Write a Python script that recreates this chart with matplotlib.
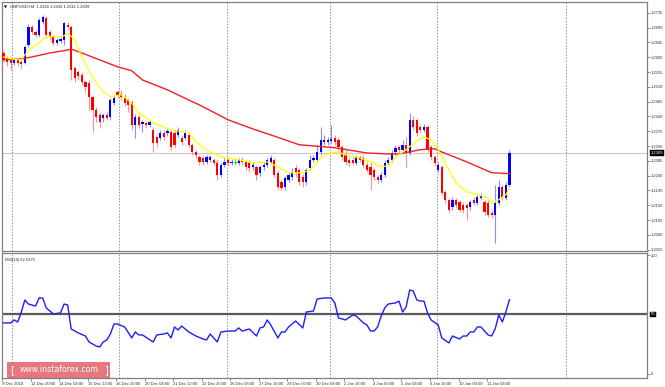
import matplotlib.pyplot as plt
from matplotlib.patches import Rectangle
from matplotlib.transforms import blended_transform_factory
import numpy as np

# GBPUSD H4 candles
opens = [1.2613, 1.2598, 1.2592, 1.2583, 1.2592, 1.2586, 1.2583, 1.2638, 1.2692, 1.2677,
         1.2668, 1.2708, 1.2720, 1.2677, 1.2662, 1.2644, 1.2650, 1.2653, 1.2698, 1.2692,
         1.2568, 1.2556, 1.2546, 1.2525, 1.2522, 1.2480, 1.2440, 1.2425, 1.2416, 1.2425,
         1.2419, 1.2461, 1.2495, 1.2489, 1.2480, 1.2470, 1.2464, 1.2395, 1.2419, 1.2398,
         1.2401, 1.2395, 1.2379, 1.2358, 1.2355, 1.2370, 1.2370, 1.2373, 1.2370, 1.2364,
         1.2355, 1.2355, 1.2364, 1.2334, 1.2312, 1.2297, 1.2294, 1.2282, 1.2288, 1.2288,
         1.2279, 1.2243, 1.2273, 1.2288, 1.2279, 1.2282, 1.2279, 1.2288, 1.2282, 1.2279,
         1.2267, 1.2267, 1.2249, 1.2267, 1.2273, 1.2282, 1.2288, 1.2249, 1.2221, 1.2206,
         1.2227, 1.2236, 1.2264, 1.2258, 1.2236, 1.2221, 1.2264, 1.2288, 1.2288, 1.2312,
         1.2343, 1.2343, 1.2346, 1.2355, 1.2349, 1.2328, 1.2303, 1.2288, 1.2288, 1.2279,
         1.2297, 1.2294, 1.2273, 1.2267, 1.2258, 1.2236, 1.2227, 1.2243, 1.2279, 1.2288,
         1.2312, 1.2328, 1.2319, 1.2334, 1.2309, 1.2410, 1.2410, 1.2388, 1.2379, 1.2388,
         1.2328, 1.2297, 1.2258, 1.2267, 1.2191, 1.2167, 1.2145, 1.2167, 1.2160, 1.2151,
         1.2151, 1.2145, 1.2167, 1.2157, 1.2173, 1.2160, 1.2157, 1.2127, 1.2121, 1.2157,
         1.2206, 1.2173, 1.2212]
closes = [1.2592, 1.2586, 1.2583, 1.2592, 1.2583, 1.2580, 1.2632, 1.2692, 1.2677, 1.2668,
          1.2714, 1.2723, 1.2668, 1.2662, 1.2644, 1.2653, 1.2656, 1.2705, 1.2692, 1.2562,
          1.2537, 1.2543, 1.2525, 1.2510, 1.2480, 1.2440, 1.2419, 1.2404, 1.2425, 1.2416,
          1.2470, 1.2477, 1.2486, 1.2480, 1.2461, 1.2455, 1.2395, 1.2419, 1.2395, 1.2404,
          1.2395, 1.2404, 1.2340, 1.2340, 1.2370, 1.2358, 1.2376, 1.2328, 1.2334, 1.2379,
          1.2343, 1.2370, 1.2334, 1.2312, 1.2303, 1.2282, 1.2282, 1.2297, 1.2297, 1.2279,
          1.2243, 1.2273, 1.2282, 1.2279, 1.2282, 1.2282, 1.2288, 1.2282, 1.2267, 1.2264,
          1.2273, 1.2243, 1.2267, 1.2273, 1.2288, 1.2294, 1.2243, 1.2206, 1.2203, 1.2233,
          1.2243, 1.2252, 1.2249, 1.2221, 1.2221, 1.2258, 1.2288, 1.2294, 1.2312, 1.2349,
          1.2349, 1.2349, 1.2352, 1.2343, 1.2328, 1.2297, 1.2282, 1.2279, 1.2279, 1.2297,
          1.2288, 1.2273, 1.2258, 1.2243, 1.2236, 1.2227, 1.2243, 1.2279, 1.2288, 1.2309,
          1.2325, 1.2319, 1.2334, 1.2312, 1.2410, 1.2388, 1.2370, 1.2379, 1.2388, 1.2319,
          1.2297, 1.2279, 1.2273, 1.2188, 1.2167, 1.2136, 1.2167, 1.2151, 1.2136, 1.2136,
          1.2142, 1.2160, 1.2157, 1.2176, 1.2179, 1.2130, 1.2121, 1.2121, 1.2157, 1.2206,
          1.2173, 1.2212, 1.2309]
highs = [1.2622, 1.2604, 1.2598, 1.2598, 1.2598, 1.2592, 1.2638, 1.2701, 1.2698, 1.2683,
         1.2720, 1.2729, 1.2726, 1.2683, 1.2668, 1.2659, 1.2662, 1.2708, 1.2708, 1.2698,
         1.2574, 1.2562, 1.2556, 1.2531, 1.2531, 1.2486, 1.2449, 1.2434, 1.2431, 1.2434,
         1.2477, 1.2486, 1.2501, 1.2501, 1.2489, 1.2477, 1.2470, 1.2428, 1.2425, 1.2410,
         1.2407, 1.2410, 1.2388, 1.2364, 1.2379, 1.2379, 1.2385, 1.2379, 1.2379, 1.2388,
         1.2364, 1.2379, 1.2373, 1.2340, 1.2319, 1.2303, 1.2300, 1.2303, 1.2303, 1.2294,
         1.2288, 1.2279, 1.2294, 1.2297, 1.2291, 1.2294, 1.2294, 1.2297, 1.2288, 1.2288,
         1.2282, 1.2273, 1.2273, 1.2282, 1.2294, 1.2303, 1.2294, 1.2258, 1.2227, 1.2239,
         1.2252, 1.2264, 1.2273, 1.2264, 1.2246, 1.2264, 1.2303, 1.2303, 1.2334, 1.2388,
         1.2364, 1.2358, 1.2395, 1.2364, 1.2358, 1.2334, 1.2319, 1.2297, 1.2297, 1.2303,
         1.2303, 1.2303, 1.2282, 1.2282, 1.2264, 1.2243, 1.2252, 1.2288, 1.2297, 1.2319,
         1.2334, 1.2334, 1.2349, 1.2358, 1.2431, 1.2422, 1.2416, 1.2395, 1.2398, 1.2395,
         1.2334, 1.2303, 1.2282, 1.2273, 1.2197, 1.2173, 1.2176, 1.2173, 1.2167, 1.2160,
         1.2157, 1.2167, 1.2176, 1.2182, 1.2188, 1.2167, 1.2167, 1.2136, 1.2212, 1.2227,
         1.2212, 1.2221, 1.2319]
lows = [1.2586, 1.2574, 1.2562, 1.2577, 1.2574, 1.2568, 1.2580, 1.2632, 1.2671, 1.2662,
        1.2662, 1.2701, 1.2662, 1.2653, 1.2638, 1.2638, 1.2644, 1.2638, 1.2683, 1.2531,
        1.2525, 1.2531, 1.2516, 1.2495, 1.2440, 1.2373, 1.2404, 1.2385, 1.2404, 1.2410,
        1.2410, 1.2455, 1.2477, 1.2470, 1.2452, 1.2434, 1.2379, 1.2355, 1.2385, 1.2373,
        1.2385, 1.2388, 1.2312, 1.2328, 1.2349, 1.2349, 1.2361, 1.2319, 1.2325, 1.2358,
        1.2334, 1.2349, 1.2328, 1.2303, 1.2294, 1.2273, 1.2273, 1.2276, 1.2282, 1.2273,
        1.2227, 1.2236, 1.2267, 1.2273, 1.2273, 1.2273, 1.2273, 1.2273, 1.2258, 1.2252,
        1.2258, 1.2227, 1.2239, 1.2258, 1.2267, 1.2276, 1.2236, 1.2197, 1.2197, 1.2197,
        1.2221, 1.2227, 1.2236, 1.2212, 1.2206, 1.2212, 1.2258, 1.2282, 1.2282, 1.2303,
        1.2334, 1.2334, 1.2340, 1.2334, 1.2319, 1.2288, 1.2273, 1.2270, 1.2273, 1.2273,
        1.2282, 1.2264, 1.2252, 1.2197, 1.2227, 1.2218, 1.2221, 1.2236, 1.2273, 1.2282,
        1.2303, 1.2309, 1.2312, 1.2267, 1.2303, 1.2379, 1.2361, 1.2370, 1.2373, 1.2312,
        1.2288, 1.2270, 1.2252, 1.2182, 1.2157, 1.2130, 1.2136, 1.2142, 1.2130, 1.2127,
        1.2106, 1.2136, 1.2151, 1.2151, 1.2167, 1.2121, 1.2115, 1.2112, 1.2036, 1.2151,
        1.2167, 1.2167, 1.2206]

# slow (red) and fast (yellow) moving averages, read at the bars where they bend
ma_slow_bar = [0, 5, 8, 13, 18, 19, 22, 27, 32, 36, 39, 46, 52, 55, 63, 70, 75, 83, 93, 102,
               108, 111, 117, 121, 123, 130, 137, 142]
ma_slow = [1.2592, 1.2595, 1.2601, 1.2613, 1.2622, 1.2625, 1.2613, 1.2592, 1.2571, 1.2559,
           1.2531, 1.2501, 1.2470, 1.2455, 1.2410, 1.2382, 1.2364, 1.2334, 1.2325, 1.2309,
           1.2306, 1.2306, 1.2319, 1.2322, 1.2312, 1.2282, 1.2249, 1.2246]
ma_fast_bar = [0, 2, 5, 7, 10, 12, 15, 17, 18, 20, 22, 25, 28, 30, 33, 36, 38, 42, 47, 52,
               54, 57, 61, 66, 70, 74, 77, 80, 84, 86, 89, 92, 94, 96, 100, 103, 106, 108, 110, 113,
               116, 118, 120, 122, 125, 127, 130, 133, 136, 137, 139, 141, 142]
ma_fast = [1.2601, 1.2595, 1.2592, 1.2622, 1.2644, 1.2665, 1.2662, 1.2665, 1.2674, 1.2653,
           1.2601, 1.2540, 1.2495, 1.2480, 1.2486, 1.2461, 1.2431, 1.2401, 1.2379, 1.2370,
           1.2343, 1.2319, 1.2297, 1.2288, 1.2279, 1.2282, 1.2267, 1.2249, 1.2249, 1.2258,
           1.2294, 1.2309, 1.2312, 1.2303, 1.2294, 1.2282, 1.2267, 1.2270, 1.2297, 1.2319,
           1.2346, 1.2358, 1.2349, 1.2319, 1.2258, 1.2218, 1.2191, 1.2182, 1.2173, 1.2157,
           1.2167, 1.2182, 1.2203]

# RSI(14)
rsi_bar = [0, 2, 3, 4, 5, 6, 7, 9, 10, 11, 12, 14, 16, 17, 18, 19, 21, 23, 24, 26,
           27, 28, 29, 30, 31, 32, 34, 36, 37, 38, 39, 42, 43, 45, 46, 47, 48, 49, 50, 52,
           54, 56, 57, 58, 60, 61, 63, 65, 66, 67, 69, 71, 72, 73, 74, 75, 77, 78, 79, 80,
           82, 84, 85, 87, 88, 90, 92, 93, 94, 96, 98, 99, 101, 102, 103, 104, 105, 106, 107, 108,
           110, 111, 112, 113, 114, 115, 116, 117, 118, 119, 120, 122, 123, 125, 126, 128, 129, 130, 131, 132,
           133, 134, 136, 137, 138, 139, 140, 141, 142]
rsi = [42.9, 42.9, 45.4, 43.7, 52.1, 62.2, 58.8, 57.1, 63.9, 63.9,
       55.5, 50.4, 51.3, 58.8, 58.0, 37.8, 34.5, 31.9, 26.9, 23.5,
       22.7, 26.9, 28.6, 33.6, 42.0, 42.0, 39.5, 30.3, 35.3, 32.8,
       32.8, 26.9, 32.8, 33.6, 34.5, 30.3, 39.5, 37.0, 40.3, 35.3,
       31.9, 29.4, 28.6, 33.6, 26.9, 35.3, 36.1, 36.1, 38.7, 36.1,
       37.8, 31.9, 38.7, 39.5, 45.4, 41.2, 30.3, 35.3, 35.3, 39.5,
       44.5, 38.7, 52.1, 52.9, 63.0, 63.9, 63.9, 59.7, 47.1, 45.4,
       49.6, 48.7, 42.9, 41.2, 36.1, 36.1, 39.5, 48.7, 55.5, 58.8,
       59.7, 61.3, 52.1, 56.3, 70.6, 69.7, 62.2, 61.3, 61.3, 51.3,
       45.4, 41.2, 30.3, 26.1, 31.9, 29.4, 31.9, 31.9, 35.3, 35.3,
       39.5, 39.5, 32.8, 31.9, 38.0, 49.6, 43.7, 52.1, 62.5]

price_ticks = [1.2735, 1.2690, 1.2645, 1.2600, 1.2555, 1.2510, 1.2465, 1.2420, 1.2375,
               1.2330, 1.2285, 1.2240, 1.2195, 1.2150, 1.2105, 1.2060, 1.2015]
time_labels = ["9 Dec 2018", "12 Dec 20:00", "14 Dec 04:00", "15 Dec 12:00", "16 Dec 20:00",
               "20 Dec 04:00", "21 Dec 12:00", "22 Dec 20:00", "26 Dec 08:00", "27 Dec 16:00",
               "29 Dec 00:00", "30 Dec 08:00", "2 Jan 16:00", "4 Jan 00:00", "5 Jan 08:00",
               "6 Jan 16:00", "10 Jan 00:00", "11 Jan 08:00"]
time_label_bar = [-0.4, 7.7, 15.7, 23.7, 31.7, 39.7, 47.7, 55.7, 63.7, 71.7, 79.7, 87.7,
                  95.7, 103.7, 111.7, 119.7, 127.7, 135.7]
grid_bar = [2.4, 32.4, 62.6, 91.6, 121.7, 157.9]
last_price = 1.2309
rsi_last = 62.5375

W, H = 665, 387
fig = plt.figure(figsize=(W / 100, H / 100), dpi=100)
fig.patch.set_facecolor('white')


def box(x0, y0, x1, y1):
    return [x0 / W, 1 - y1 / H, (x1 - x0) / W, (y1 - y0) / H]


ax = fig.add_axes(box(2, 2, 647, 251))
ax_r = fig.add_axes(box(2, 253, 647, 378), sharex=ax)

FONT = 'Liberation Sans'
FS = 3.0
spine_c = '#808080'

o = np.array(opens)
c = np.array(closes)
h = np.array(highs)
l = np.array(lows)
x = np.arange(len(o))

up = c > o
down = c < o
flat = c == o
body_col = np.where(up, '#0000ff', np.where(down, '#ff0000', '#00c000'))
wick_col = np.where(up, '#8c8cff', np.where(down, '#ff9090', '#80e080'))

ax.vlines(x, l, h, colors=wick_col, lw=0.8, zorder=3)
ax.bar(x, c - o, bottom=o, width=0.62, color=body_col, lw=0, zorder=4)
ax.hlines(c[flat], x[flat] - 0.4, x[flat] + 0.4, colors='#00c000', lw=0.9, zorder=4)

ax.plot(ma_slow_bar, ma_slow, color='#f22020', lw=1.0, zorder=5)
ax.plot(ma_fast_bar, ma_fast, color='#ffff00', lw=0.9, zorder=5)

ax.axhline(last_price, color='#c8c8c8', lw=0.8, zorder=1)

for g in grid_bar:
    for a in (ax, ax_r):
        a.axvline(g, color='#6a6a6a', lw=0.5, ls=(0, (2.2, 2.2)), zorder=1)

ax.set_xlim(-0.42, 180.6)
ax.set_ylim(1.2011, 1.2768)

for a in (ax, ax_r):
    for s in a.spines.values():
        s.set_color(spine_c)
        s.set_linewidth(0.9)
    a.yaxis.tick_right()
    a.tick_params(axis='y', length=2, width=0.5, color='#606060', pad=1,
                  labelsize=FS, labelcolor='#303030')

ax.set_yticks(price_ticks)
ax.set_yticklabels([f'{p:.4f}' for p in price_ticks], fontfamily=FONT)
ax.tick_params(axis='x', bottom=False, labelbottom=False)

tr = blended_transform_factory(ax.transAxes, ax.transData)
ax.text(1.006, last_price, f'{last_price:.4f}', transform=tr, ha='left', va='center',
        fontsize=FS, fontfamily=FONT, color='white',
        bbox=dict(boxstyle='square,pad=0.15', fc='black', ec='black', lw=0.3))

ax.text(0.003, 0.985, '\u25bc', transform=ax.transAxes, ha='left', va='top',
        fontsize=2.8, color='black')
ax.text(0.012, 0.988, 'GBPUSD,H4  1.2316 1.2316 1.2311 1.2309', transform=ax.transAxes,
        ha='left', va='top', fontsize=FS, fontfamily=FONT, color='#202020')

# RSI panel
ax_r.plot(rsi_bar, rsi, color='#1e1eff', lw=1.0, zorder=4)
ax_r.axhline(50, color='#5a5a5a', lw=1.6, zorder=2)
ax_r.set_ylim(-3.4, 101.7)
ax_r.set_yticks([0, 100])
ax_r.set_yticklabels(['0', '100'], fontfamily=FONT)
tr_r = blended_transform_factory(ax_r.transAxes, ax_r.transData)
ax_r.text(1.006, 50, '50', transform=tr_r, ha='left', va='center',
          fontsize=FS, fontfamily=FONT, color='white',
          bbox=dict(boxstyle='square,pad=0.15', fc='black', ec='black', lw=0.3))
ax_r.text(0.004, 0.96, f'RSI(14) {rsi_last}', transform=ax_r.transAxes, ha='left',
          va='top', fontsize=FS, fontfamily=FONT, color='#202020')

ax_r.set_xticks(time_label_bar)
ax_r.set_xticklabels(time_labels, ha='left', fontfamily=FONT)
ax_r.tick_params(axis='x', length=2, width=0.5, color='#606060', pad=0.8,
                 labelsize=FS, labelcolor='#303030')

# watermark
fig.patches.append(Rectangle((7 / W, 1 - 378 / H), 103 / W, 16 / H, transform=fig.transFigure,
                             fc='#e06068', ec='none', alpha=0.85, zorder=10))
fig.text(12 / W, 1 - 370 / H, '[', ha='center', va='center',
         fontsize=7, color='white', fontfamily='DejaVu Sans', zorder=11)
fig.text(59 / W, 1 - 370 / H, 'www.instaforex.com', ha='center', va='center',
         fontsize=5.6, color='white', fontfamily='DejaVu Sans', zorder=11)
fig.text(106 / W, 1 - 370 / H, ']', ha='center', va='center',
         fontsize=7, color='white', fontfamily='DejaVu Sans', zorder=11)

fig.savefig('out.png', dpi=100, facecolor='white')
